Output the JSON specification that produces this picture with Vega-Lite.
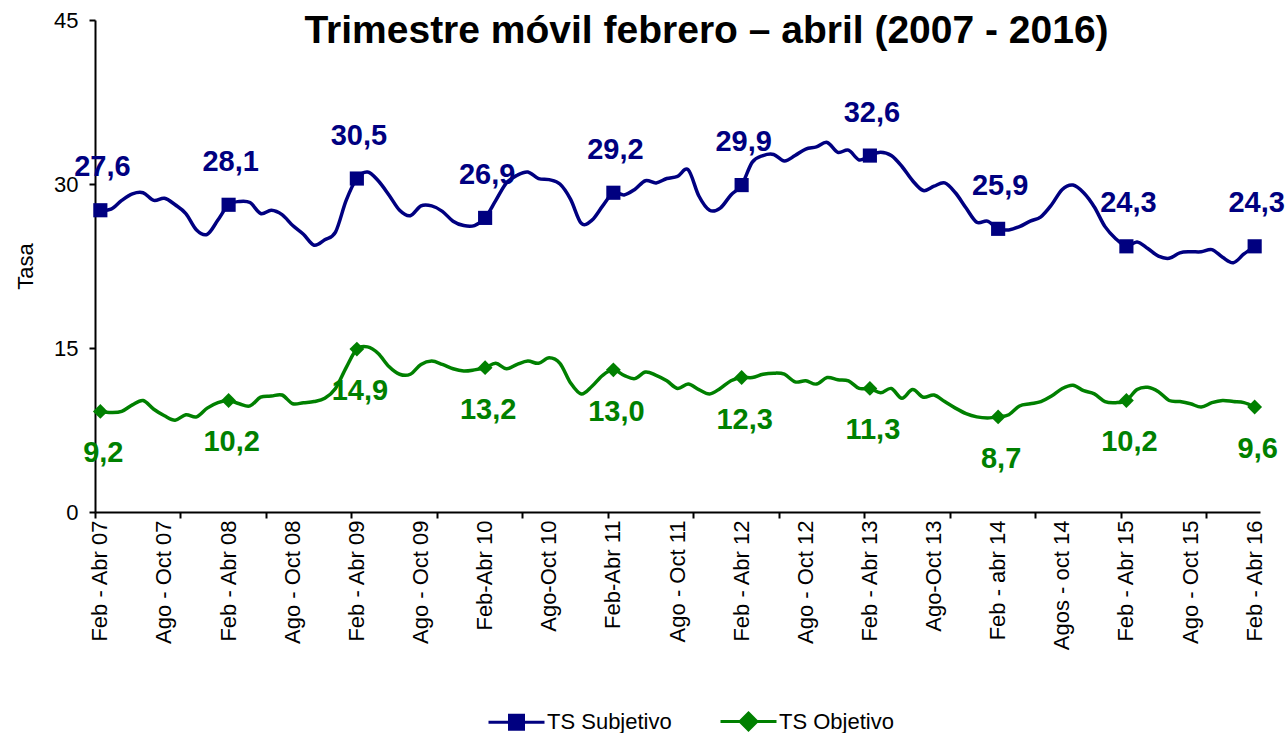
{
  "$schema": "https://vega.github.io/schema/vega-lite/v6.json",
  "width": 1165,
  "height": 492,
  "autosize": {"type": "none"},
  "padding": {"left": 95, "top": 20, "right": 26, "bottom": 221},
  "title": {
    "text": "Trimestre móvil febrero – abril (2007 - 2016)",
    "font": "Liberation Sans",
    "fontSize": 39,
    "fontWeight": "bold",
    "color": "black",
    "anchor": "middle",
    "frame": "group",
    "baseline": "alphabetic",
    "offset": -39,
    "dx": 29,
    "dy": 34
  },
  "data": {
    "values": [
      {"periodo": "Feb - Abr 07", "TS Subjetivo": 27.6, "TS Objetivo": 9.2},
      {"periodo": "Mar - May 07", "TS Subjetivo": 27.7, "TS Objetivo": 9.1},
      {"periodo": "Abr - Jun 07", "TS Subjetivo": 28.5, "TS Objetivo": 9.2},
      {"periodo": "May - Jul 07", "TS Subjetivo": 29.1, "TS Objetivo": 9.8},
      {"periodo": "Jun - Ago 07", "TS Subjetivo": 29.2, "TS Objetivo": 10.2},
      {"periodo": "Jul - Sep 07", "TS Subjetivo": 28.5, "TS Objetivo": 9.4},
      {"periodo": "Ago - Oct 07", "TS Subjetivo": 28.7, "TS Objetivo": 8.8},
      {"periodo": "Sep - Nov 07", "TS Subjetivo": 28.1, "TS Objetivo": 8.4},
      {"periodo": "Oct - Dic 07", "TS Subjetivo": 27.3, "TS Objetivo": 8.9},
      {"periodo": "Nov 07 - Ene 08", "TS Subjetivo": 25.8, "TS Objetivo": 8.7},
      {"periodo": "Dic 07 - Feb 08", "TS Subjetivo": 25.4, "TS Objetivo": 9.5},
      {"periodo": "Ene - Mar 08", "TS Subjetivo": 26.7, "TS Objetivo": 10.0},
      {"periodo": "Feb - Abr 08", "TS Subjetivo": 28.1, "TS Objetivo": 10.2},
      {"periodo": "Mar - May 08", "TS Subjetivo": 28.4, "TS Objetivo": 9.9},
      {"periodo": "Abr - Jun 08", "TS Subjetivo": 28.3, "TS Objetivo": 9.7},
      {"periodo": "May - Jul 08", "TS Subjetivo": 27.3, "TS Objetivo": 10.5},
      {"periodo": "Jun - Ago 08", "TS Subjetivo": 27.6, "TS Objetivo": 10.6},
      {"periodo": "Jul - Sep 08", "TS Subjetivo": 27.2, "TS Objetivo": 10.7},
      {"periodo": "Ago - Oct 08", "TS Subjetivo": 26.2, "TS Objetivo": 9.9},
      {"periodo": "Sep - Nov 08", "TS Subjetivo": 25.4, "TS Objetivo": 10.0},
      {"periodo": "Oct - Dic 08", "TS Subjetivo": 24.4, "TS Objetivo": 10.1},
      {"periodo": "Nov 08 - Ene 09", "TS Subjetivo": 24.9, "TS Objetivo": 10.4},
      {"periodo": "Dic 08 - Feb 09", "TS Subjetivo": 25.6, "TS Objetivo": 11.3},
      {"periodo": "Ene - Mar 09", "TS Subjetivo": 28.5, "TS Objetivo": 13.2},
      {"periodo": "Feb - Abr 09", "TS Subjetivo": 30.5, "TS Objetivo": 14.9},
      {"periodo": "Mar - May 09", "TS Subjetivo": 31.1, "TS Objetivo": 15.1},
      {"periodo": "Abr - Jun 09", "TS Subjetivo": 30.3, "TS Objetivo": 14.5},
      {"periodo": "May - Jul 09", "TS Subjetivo": 29.0, "TS Objetivo": 13.3},
      {"periodo": "Jun - Ago 09", "TS Subjetivo": 27.6, "TS Objetivo": 12.6},
      {"periodo": "Jul - Sep 09", "TS Subjetivo": 27.1, "TS Objetivo": 12.6},
      {"periodo": "Ago - Oct 09", "TS Subjetivo": 28.0, "TS Objetivo": 13.5},
      {"periodo": "Sep - Nov 09", "TS Subjetivo": 28.0, "TS Objetivo": 13.8},
      {"periodo": "Oct - Dic 09", "TS Subjetivo": 27.5, "TS Objetivo": 13.5},
      {"periodo": "Nov 09 - Ene 10", "TS Subjetivo": 26.6, "TS Objetivo": 13.1},
      {"periodo": "Dic 09 - Feb 10", "TS Subjetivo": 26.2, "TS Objetivo": 12.9},
      {"periodo": "Ene - Mar 10", "TS Subjetivo": 26.2, "TS Objetivo": 13.0},
      {"periodo": "Feb-Abr 10", "TS Subjetivo": 26.9, "TS Objetivo": 13.2},
      {"periodo": "Mar - May 10", "TS Subjetivo": 28.5, "TS Objetivo": 13.6},
      {"periodo": "Abr - Jun 10", "TS Subjetivo": 30.1, "TS Objetivo": 13.1},
      {"periodo": "May - Jul 10", "TS Subjetivo": 30.8, "TS Objetivo": 13.5},
      {"periodo": "Jun - Ago 10", "TS Subjetivo": 31.1, "TS Objetivo": 13.8},
      {"periodo": "Jul - Sep 10", "TS Subjetivo": 30.5, "TS Objetivo": 13.6},
      {"periodo": "Ago-Oct 10", "TS Subjetivo": 30.4, "TS Objetivo": 14.1},
      {"periodo": "Sep - Nov 10", "TS Subjetivo": 30.0, "TS Objetivo": 13.6},
      {"periodo": "Oct - Dic 10", "TS Subjetivo": 28.6, "TS Objetivo": 11.8},
      {"periodo": "Nov 10 - Ene 11", "TS Subjetivo": 26.4, "TS Objetivo": 10.8},
      {"periodo": "Dic 10 - Feb 11", "TS Subjetivo": 26.7, "TS Objetivo": 11.5},
      {"periodo": "Ene - Mar 11", "TS Subjetivo": 28.0, "TS Objetivo": 12.5},
      {"periodo": "Feb-Abr 11", "TS Subjetivo": 29.2, "TS Objetivo": 13.0},
      {"periodo": "Mar - May 11", "TS Subjetivo": 29.0, "TS Objetivo": 12.5},
      {"periodo": "Abr - Jun 11", "TS Subjetivo": 29.5, "TS Objetivo": 12.2},
      {"periodo": "May - Jul 11", "TS Subjetivo": 30.3, "TS Objetivo": 12.8},
      {"periodo": "Jun - Ago 11", "TS Subjetivo": 30.1, "TS Objetivo": 12.5},
      {"periodo": "Jul - Sep 11", "TS Subjetivo": 30.5, "TS Objetivo": 12.0},
      {"periodo": "Ago - Oct 11", "TS Subjetivo": 30.7, "TS Objetivo": 11.3},
      {"periodo": "Sep - Nov 11", "TS Subjetivo": 31.3, "TS Objetivo": 11.7},
      {"periodo": "Oct - Dic 11", "TS Subjetivo": 28.9, "TS Objetivo": 11.2},
      {"periodo": "Nov 11 - Ene 12", "TS Subjetivo": 27.6, "TS Objetivo": 10.8},
      {"periodo": "Dic 11 - Feb 12", "TS Subjetivo": 27.8, "TS Objetivo": 11.3},
      {"periodo": "Ene - Mar 12", "TS Subjetivo": 29.0, "TS Objetivo": 12.0},
      {"periodo": "Feb - Abr 12", "TS Subjetivo": 29.9, "TS Objetivo": 12.3},
      {"periodo": "Mar - May 12", "TS Subjetivo": 32.0, "TS Objetivo": 12.3},
      {"periodo": "Abr - Jun 12", "TS Subjetivo": 32.6, "TS Objetivo": 12.6},
      {"periodo": "May - Jul 12", "TS Subjetivo": 32.7, "TS Objetivo": 12.7},
      {"periodo": "Jun - Ago 12", "TS Subjetivo": 32.1, "TS Objetivo": 12.6},
      {"periodo": "Jul - Sep 12", "TS Subjetivo": 32.6, "TS Objetivo": 11.9},
      {"periodo": "Ago - Oct 12", "TS Subjetivo": 33.2, "TS Objetivo": 12.0},
      {"periodo": "Sep - Nov 12", "TS Subjetivo": 33.4, "TS Objetivo": 11.7},
      {"periodo": "Oct - Dic 12", "TS Subjetivo": 33.8, "TS Objetivo": 12.3},
      {"periodo": "Nov 12 - Ene 13", "TS Subjetivo": 32.9, "TS Objetivo": 12.1},
      {"periodo": "Dic 12 - Feb 13", "TS Subjetivo": 33.1, "TS Objetivo": 12.0},
      {"periodo": "Ene - Mar 13", "TS Subjetivo": 32.2, "TS Objetivo": 11.3},
      {"periodo": "Feb - Abr 13", "TS Subjetivo": 32.6, "TS Objetivo": 11.3},
      {"periodo": "Mar - May 13", "TS Subjetivo": 32.9, "TS Objetivo": 10.9},
      {"periodo": "Abr - Jun 13", "TS Subjetivo": 32.6, "TS Objetivo": 11.3},
      {"periodo": "May - Jul 13", "TS Subjetivo": 31.6, "TS Objetivo": 10.4},
      {"periodo": "Jun - Ago 13", "TS Subjetivo": 30.3, "TS Objetivo": 11.2},
      {"periodo": "Jul - Sep 13", "TS Subjetivo": 29.4, "TS Objetivo": 10.5},
      {"periodo": "Ago-Oct 13", "TS Subjetivo": 29.8, "TS Objetivo": 10.7},
      {"periodo": "Sep - Nov 13", "TS Subjetivo": 30.1, "TS Objetivo": 10.1},
      {"periodo": "Oct - Dic 13", "TS Subjetivo": 29.2, "TS Objetivo": 9.5},
      {"periodo": "Nov 13 - Ene 14", "TS Subjetivo": 27.8, "TS Objetivo": 9.0},
      {"periodo": "Dic 13 - Feb 14", "TS Subjetivo": 26.5, "TS Objetivo": 8.7},
      {"periodo": "Ene - Mar 14", "TS Subjetivo": 26.6, "TS Objetivo": 8.6},
      {"periodo": "Feb - abr 14", "TS Subjetivo": 25.9, "TS Objetivo": 8.7},
      {"periodo": "Mar - May 14", "TS Subjetivo": 25.8, "TS Objetivo": 8.9},
      {"periodo": "Abr - Jun 14", "TS Subjetivo": 26.1, "TS Objetivo": 9.7},
      {"periodo": "May - Jul 14", "TS Subjetivo": 26.6, "TS Objetivo": 9.9},
      {"periodo": "Jun - Ago 14", "TS Subjetivo": 27.0, "TS Objetivo": 10.1},
      {"periodo": "Jul - Sep 14", "TS Subjetivo": 28.1, "TS Objetivo": 10.6},
      {"periodo": "Agos - oct 14", "TS Subjetivo": 29.5, "TS Objetivo": 11.3},
      {"periodo": "Sep - Nov 14", "TS Subjetivo": 29.9, "TS Objetivo": 11.6},
      {"periodo": "Oct - Dic 14", "TS Subjetivo": 29.2, "TS Objetivo": 11.1},
      {"periodo": "Nov 14 - Ene 15", "TS Subjetivo": 27.9, "TS Objetivo": 10.8},
      {"periodo": "Dic 14 - Feb 15", "TS Subjetivo": 26.1, "TS Objetivo": 10.1},
      {"periodo": "Ene - Mar 15", "TS Subjetivo": 25.0, "TS Objetivo": 10.0},
      {"periodo": "Feb - Abr 15", "TS Subjetivo": 24.3, "TS Objetivo": 10.2},
      {"periodo": "Mar - May 15", "TS Subjetivo": 24.7, "TS Objetivo": 11.2},
      {"periodo": "Abr - Jun 15", "TS Subjetivo": 24.1, "TS Objetivo": 11.4},
      {"periodo": "May - Jul 15", "TS Subjetivo": 23.4, "TS Objetivo": 11.0},
      {"periodo": "Jun - Ago 15", "TS Subjetivo": 23.2, "TS Objetivo": 10.2},
      {"periodo": "Jul - Sep 15", "TS Subjetivo": 23.7, "TS Objetivo": 10.1},
      {"periodo": "Ago - Oct 15", "TS Subjetivo": 23.8, "TS Objetivo": 9.9},
      {"periodo": "Sep - Nov 15", "TS Subjetivo": 23.8, "TS Objetivo": 9.6},
      {"periodo": "Oct - Dic 15", "TS Subjetivo": 24.0, "TS Objetivo": 10.0},
      {"periodo": "Nov 15 - Ene 16", "TS Subjetivo": 23.3, "TS Objetivo": 10.2},
      {"periodo": "Dic 15 - Feb 16", "TS Subjetivo": 22.8, "TS Objetivo": 10.1},
      {"periodo": "Ene - Mar 16", "TS Subjetivo": 23.6, "TS Objetivo": 10.0},
      {"periodo": "Feb - Abr 16", "TS Subjetivo": 24.3, "TS Objetivo": 9.6}
    ]
  },
  "transform": [{"fold": ["TS Subjetivo", "TS Objetivo"], "as": ["serie", "tasa"]}],
  "encoding": {
    "y": {
      "field": "tasa",
      "type": "quantitative",
      "scale": {"domain": [0, 45], "nice": false, "zero": true},
      "axis": {
        "values": [0, 15, 30, 45],
        "title": "Tasa",
        "titleFontSize": 22,
        "titleFontWeight": "normal",
        "titleColor": "black",
        "titlePadding": 16,
        "labelFontSize": 22,
        "labelColor": "black",
        "labelPadding": 11,
        "labelFlush": false,
        "tickSize": 6,
        "tickWidth": 2,
        "tickColor": "black",
        "domainColor": "black",
        "domainWidth": 2,
        "grid": false
      }
    },
    "color": {
      "field": "serie",
      "type": "nominal",
      "scale": {"domain": ["TS Subjetivo", "TS Objetivo"], "range": ["#000080", "#008000"]},
      "legend": {
        "orient": "none",
        "legendX": 406,
        "legendY": 686,
        "direction": "horizontal",
        "title": null,
        "labelFontSize": 22,
        "labelColor": "black",
        "symbolSize": 784,
        "labelOffset": 15,
        "columnPadding": 42,
        "symbolStrokeWidth": 3,
        "symbolOpacity": 1,
        "encode": {
          "symbols": {
            "update": {
              "shape": {"signal": "datum.value === 'TS Subjetivo' ? 'M-2,0H2M-0.5,-0.5H0.5V0.5H-0.5Z' : 'M-2,0H2M0,-0.6L0.6,0L0,0.6L-0.6,0Z'"},
              "strokeWidth": {"value": 3}
            }
          }
        }
      }
    }
  },
  "layer": [
    {
      "mark": {"type": "line", "interpolate": "cardinal", "strokeWidth": 3.5},
      "encoding": {
        "x": {
          "field": "periodo",
          "type": "ordinal",
          "sort": null,
          "scale": {"type": "band", "paddingInner": 0, "paddingOuter": 0},
          "axis": {
            "orient": "bottom",
            "title": null,
            "values": ["Feb - Abr 07", "Ago - Oct 07", "Feb - Abr 08", "Ago - Oct 08", "Feb - Abr 09", "Ago - Oct 09", "Feb-Abr 10", "Ago-Oct 10", "Feb-Abr 11", "Ago - Oct 11", "Feb - Abr 12", "Ago - Oct 12", "Feb - Abr 13", "Ago-Oct 13", "Feb - abr 14", "Agos - oct 14", "Feb - Abr 15", "Ago - Oct 15", "Feb - Abr 16"],
            "labelAngle": 270,
            "labelFontSize": 22,
            "labelColor": "black",
            "labelPadding": 8,
            "labelOverlap": false,
            "labelBound": false,
            "ticks": false,
            "tickSize": 0,
            "domainColor": "black",
            "domainWidth": 2,
            "grid": false
          }
        }
      }
    },
    {
      "mark": {"type": "point", "filled": true, "size": 200, "shape": "square"},
      "encoding": {
        "x": {
          "field": "periodo",
          "type": "ordinal",
          "sort": null,
          "scale": {"type": "band", "paddingInner": 0, "paddingOuter": 0},
          "axis": {
            "orient": "bottom",
            "title": null,
            "values": ["Feb - Abr 07", "Oct - Dic 07", "Jun - Ago 08", "Feb - Abr 09", "Oct - Dic 09", "Jun - Ago 10", "Feb-Abr 11", "Oct - Dic 11", "Jun - Ago 12", "Feb - Abr 13", "Oct - Dic 13", "Jun - Ago 14", "Feb - Abr 15", "Oct - Dic 15"],
            "labels": false,
            "ticks": true,
            "tickSize": 6,
            "tickWidth": 2,
            "tickColor": "black",
            "bandPosition": 0,
            "domain": false,
            "grid": false
          }
        },
        "opacity": {
          "condition": {"test": "indexof(datum.periodo, 'Feb') === 0 && datum.serie === 'TS Subjetivo'", "value": 1},
          "value": 0
        }
      }
    },
    {
      "mark": {"type": "point", "filled": true, "size": 220, "shape": "diamond"},
      "encoding": {
        "x": {
          "field": "periodo",
          "type": "ordinal",
          "sort": null,
          "scale": {"type": "band", "paddingInner": 0, "paddingOuter": 0},
          "axis": null
        },
        "opacity": {
          "condition": {"test": "indexof(datum.periodo, 'Feb') === 0 && datum.serie === 'TS Objetivo'", "value": 1},
          "value": 0
        }
      }
    },
    {
      "mark": {"type": "text", "fontSize": 29, "fontWeight": "bold", "baseline": "alphabetic", "align": "center", "dx": 2, "dy": -34},
      "encoding": {
        "x": {
          "field": "periodo",
          "type": "ordinal",
          "sort": null,
          "scale": {"type": "band", "paddingInner": 0, "paddingOuter": 0},
          "axis": null
        },
        "text": {
          "condition": {"test": "indexof(datum.periodo, 'Feb') === 0 && datum.serie === 'TS Subjetivo'", "field": "tasa", "type": "quantitative", "format": ".1f"},
          "value": ""
        }
      }
    },
    {
      "mark": {"type": "text", "fontSize": 29, "fontWeight": "bold", "baseline": "alphabetic", "align": "center", "dx": 3, "dy": 51},
      "encoding": {
        "x": {
          "field": "periodo",
          "type": "ordinal",
          "sort": null,
          "scale": {"type": "band", "paddingInner": 0, "paddingOuter": 0},
          "axis": null
        },
        "text": {
          "condition": {"test": "indexof(datum.periodo, 'Feb') === 0 && datum.serie === 'TS Objetivo'", "field": "tasa", "type": "quantitative", "format": ".1f"},
          "value": ""
        }
      }
    }
  ],
  "resolve": {"axis": {"x": "independent"}},
  "config": {
    "font": "Liberation Sans",
    "view": {"stroke": null},
    "locale": {"number": {"decimal": ",", "thousands": ".", "grouping": [3], "currency": ["", ""]}}
  }
}
